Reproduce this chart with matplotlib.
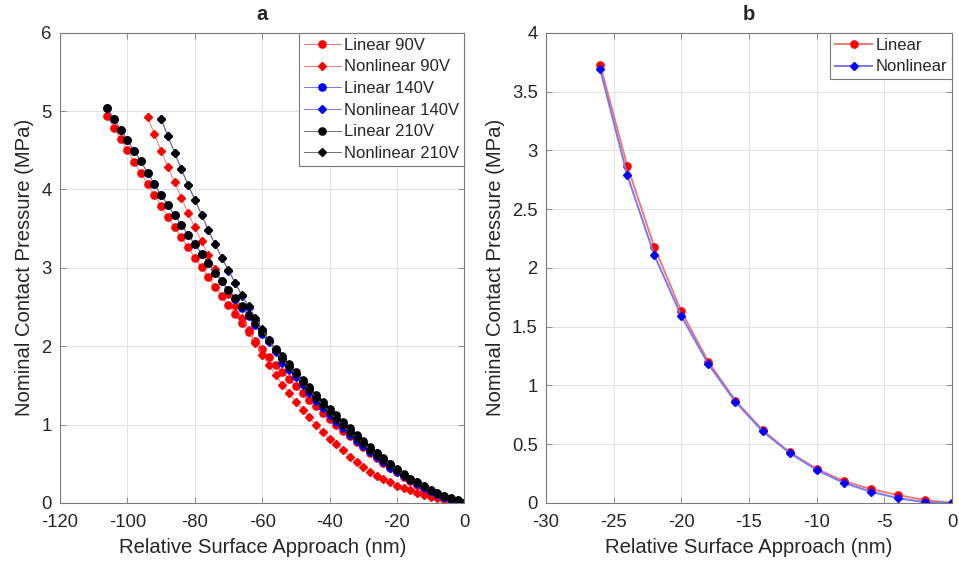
import matplotlib
matplotlib.use("Agg")
import matplotlib.pyplot as plt
from matplotlib.ticker import FuncFormatter


# -----------------------------
# DATA (panel a)
# -----------------------------

x_lin = [-106, -104, -102, -100, -98, -96, -94, -92, -90, -88, -86, -84, -82, -80,
         -78, -76, -74, -72, -70, -68, -66, -64, -62, -60, -58, -56, -54, -52,
         -50, -48, -46, -44, -42, -40, -38, -36, -34, -32, -30, -28, -26, -24,
         -22, -20, -18, -16, -14, -12, -10, -8, -6, -4, -2, 0]

x_nl90 = [-94, -92, -90, -88, -86, -84, -82, -80, -78, -76, -74, -72, -70, -68,
          -66, -64, -62, -60, -58, -56, -54, -52, -50, -48, -46, -44, -42, -40,
          -38, -36, -34, -32, -30, -28, -26, -24, -22, -20, -18, -16, -14, -12,
          -10, -8, -6, -4, -2, 0]

x_nl = [-90, -88, -86, -84, -82, -80, -78, -76, -74, -72, -70, -68, -66, -64,
        -62, -60, -58, -56, -54, -52, -50, -48, -46, -44, -42, -40, -38, -36,
        -34, -32, -30, -28, -26, -24, -22, -20, -18, -16, -14, -12, -10, -8,
        -6, -4, -2, 0]

lin_90 = [4.94, 4.79, 4.64, 4.50, 4.35, 4.21, 4.07, 3.93, 3.79, 3.65, 3.52, 3.39,
          3.26, 3.13, 3.01, 2.88, 2.76, 2.64, 2.52, 2.41, 2.29, 2.18, 2.07, 1.96,
          1.86, 1.76, 1.67, 1.58, 1.49, 1.40, 1.31, 1.23, 1.15, 1.07, 0.99, 0.92,
          0.85, 0.78, 0.71, 0.64, 0.57, 0.51, 0.45, 0.39, 0.33, 0.28, 0.23, 0.18,
          0.14, 0.10, 0.07, 0.04, 0.02, 0.00]

nonlin_90 = [4.92, 4.71, 4.49, 4.29, 4.09, 3.89, 3.70, 3.52, 3.34, 3.16, 2.99, 2.83,
             2.66, 2.51, 2.36, 2.21, 2.04, 1.89, 1.76, 1.63, 1.51, 1.40, 1.29, 1.19,
             1.09, 0.99, 0.90, 0.82, 0.75, 0.67, 0.59, 0.52, 0.46, 0.40, 0.34, 0.30,
             0.26, 0.22, 0.19, 0.16, 0.13, 0.10, 0.08, 0.06, 0.04, 0.025, 0.01, 0.00]

lin_140 = [5.04, 4.90, 4.76, 4.63, 4.49, 4.36, 4.21, 4.07, 3.93, 3.80, 3.67, 3.55,
           3.42, 3.30, 3.18, 3.06, 2.94, 2.83, 2.72, 2.60, 2.49, 2.38, 2.27, 2.16,
           2.06, 1.95, 1.85, 1.75, 1.65, 1.55, 1.46, 1.36, 1.27, 1.18, 1.10, 1.01,
           0.93, 0.85, 0.77, 0.70, 0.63, 0.56, 0.49, 0.42, 0.36, 0.30, 0.25, 0.20,
           0.15, 0.11, 0.08, 0.05, 0.02, 0.00]

nonlin_140 = [4.90, 4.68, 4.47, 4.26, 4.06, 3.87, 3.68, 3.48, 3.30, 3.13, 2.96, 2.80,
              2.64, 2.49, 2.34, 2.19, 2.05, 1.92, 1.79, 1.70, 1.60, 1.50, 1.40, 1.30,
              1.21, 1.12, 1.03, 0.95, 0.87, 0.79, 0.72, 0.65, 0.58, 0.52, 0.45, 0.39,
              0.34, 0.29, 0.24, 0.19, 0.15, 0.11, 0.08, 0.05, 0.02, 0.00]

lin_210 = [5.04, 4.90, 4.76, 4.63, 4.49, 4.36, 4.21, 4.07, 3.93, 3.80, 3.67, 3.55,
           3.42, 3.30, 3.18, 3.06, 2.94, 2.83, 2.72, 2.61, 2.51, 2.40, 2.29, 2.18,
           2.08, 1.97, 1.87, 1.77, 1.67, 1.57, 1.48, 1.38, 1.29, 1.20, 1.12, 1.03,
           0.95, 0.87, 0.79, 0.71, 0.64, 0.57, 0.50, 0.43, 0.37, 0.31, 0.26, 0.21,
           0.16, 0.12, 0.09, 0.06, 0.03, 0.00]

nonlin_210 = [4.90, 4.68, 4.47, 4.26, 4.06, 3.87, 3.68, 3.48, 3.30, 3.13, 2.97, 2.81,
              2.65, 2.51, 2.36, 2.22, 2.08, 1.95, 1.83, 1.74, 1.64, 1.54, 1.44, 1.34,
              1.25, 1.16, 1.07, 0.99, 0.91, 0.83, 0.76, 0.68, 0.61, 0.55, 0.48, 0.42,
              0.36, 0.31, 0.26, 0.21, 0.17, 0.13, 0.09, 0.06, 0.03, 0.00]


# -----------------------------
# DATA (panel b)
# -----------------------------

x_b = [-26, -24, -22, -20, -18, -16, -14, -12, -10, -8, -6, -4, -2, 0]
lin_b = [3.73, 2.87, 2.18, 1.63, 1.20, 0.87, 0.62, 0.43, 0.29, 0.185, 0.117, 0.066, 0.024, 0.0]
nonlin_b = [3.69, 2.79, 2.11, 1.59, 1.18, 0.86, 0.61, 0.425, 0.28, 0.17, 0.095, 0.04, 0.005, 0.0]


# -----------------------------
# STYLE
# -----------------------------

plt.rcParams["font.family"] = ["Liberation Sans", "DejaVu Sans"]
text_col = "#262626"
grid_col = "#e2e2e2"
edge_col = "#7a7a7a"

# pale line tints, full-colour markers
line_tint = {"red": "#f07878", "blue": "#7878f0", "black": "#707070"}


def style_axes(ax):
    ax.grid(True, color=grid_col, linewidth=0.7)
    ax.set_axisbelow(True)
    for s in ax.spines.values():
        s.set_color(edge_col)
        s.set_linewidth(0.8)
    ax.tick_params(direction="in", top=True, right=True, length=4, width=0.6,
                   color=edge_col, labelcolor=text_col, labelsize=13.3)
    ax.tick_params(axis="x", pad=8)
    ax.tick_params(axis="y", pad=6)
    ax.yaxis.set_major_formatter(FuncFormatter(lambda v, p: "%g" % v))
    ax.xaxis.set_major_formatter(FuncFormatter(lambda v, p: "%g" % v))
    ax.set_xlabel("Relative Surface Approach (nm)", fontsize=14.6, color=text_col, labelpad=5)
    ax.set_ylabel("Nominal Contact Pressure (MPa)", fontsize=14.6, color=text_col, labelpad=5)


def add_legend(ax):
    leg = ax.legend(loc="upper right", fontsize=12, borderaxespad=0, fancybox=False,
                    framealpha=1, edgecolor=edge_col, handlelength=2.2,
                    handletextpad=0.2, labelspacing=0.4, borderpad=0.3, numpoints=1)
    leg.get_frame().set_linewidth(0.8)
    for t in leg.get_texts():
        t.set_color(text_col)


def draw(ax, x, y, col, marker, label, lw=0.7):
    ms = 5.2 if marker == "o" else 4.4
    ax.plot(x, y, "-", marker=marker, color=line_tint[col], lw=lw, ms=ms,
            markerfacecolor=col, markeredgecolor=col, label=label)


fig = plt.figure(figsize=(9.59, 5.65), dpi=100)

# -----------------------------
# PANEL A
# -----------------------------

ax1 = fig.add_axes([0.0626, 0.110, 0.4216, 0.832])
draw(ax1, x_lin, lin_90, "red", "o", "Linear 90V")
draw(ax1, x_nl90, nonlin_90, "red", "D", "Nonlinear 90V")
draw(ax1, x_lin, lin_140, "blue", "o", "Linear 140V")
draw(ax1, x_nl, nonlin_140, "blue", "D", "Nonlinear 140V")
draw(ax1, x_lin, lin_210, "black", "o", "Linear 210V")
draw(ax1, x_nl, nonlin_210, "black", "D", "Nonlinear 210V")

ax1.set_xlim(-120, 0)
ax1.set_ylim(0, 6)
ax1.set_xticks([-120, -100, -80, -60, -40, -20, 0])
ax1.set_yticks([0, 1, 2, 3, 4, 5, 6])
style_axes(ax1)
ax1.set_title("a", fontsize=14.6, fontweight="bold", color=text_col, pad=9)
add_legend(ax1)

# -----------------------------
# PANEL B
# -----------------------------

ax2 = fig.add_axes([0.5693, 0.110, 0.4234, 0.832])
draw(ax2, x_b, lin_b, "red", "o", "Linear", lw=1.4)
draw(ax2, x_b, nonlin_b, "blue", "D", "Nonlinear", lw=1.4)

ax2.set_xlim(-30, 0)
ax2.set_ylim(0, 4)
ax2.set_xticks([-30, -25, -20, -15, -10, -5, 0])
ax2.set_yticks([0, 0.5, 1, 1.5, 2, 2.5, 3, 3.5, 4])
style_axes(ax2)
ax2.set_title("b", fontsize=14.6, fontweight="bold", color=text_col, pad=9)
add_legend(ax2)

fig.savefig("out.png", dpi=100)
plt.close(fig)
